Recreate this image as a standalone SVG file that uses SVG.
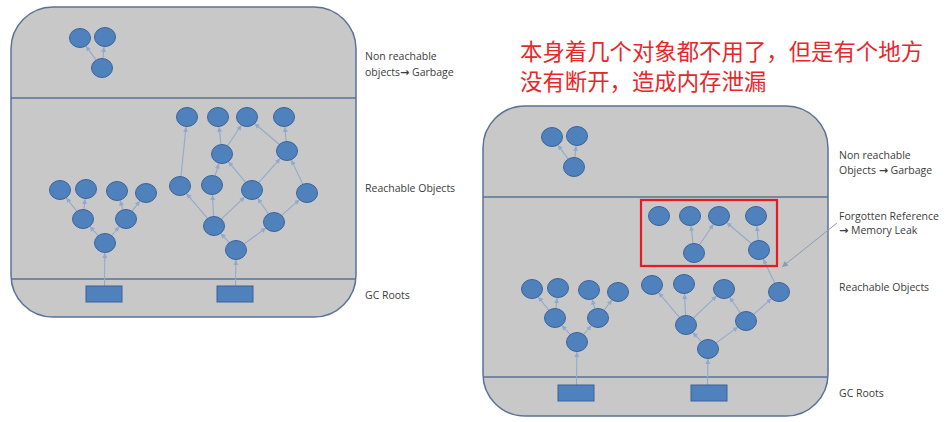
<svg xmlns="http://www.w3.org/2000/svg" width="947" height="422" viewBox="0 0 947 422">
<style>
.panel{fill:#c8c8c8;stroke:#5b7296;stroke-width:1.5}
.div{stroke:#5b7296;stroke-width:1.6;fill:none}
.n{fill:#4f81bd;stroke:#3a639a;stroke-width:1}
.root{fill:#4f81bd;stroke:#3a639a;stroke-width:1}
.e{stroke:#93a9cc;stroke-width:1.1;fill:none;marker-end:url(#ah)}
.lbl{font-family:"Open Sans","Liberation Sans",sans-serif;font-size:10.5px;fill:#3c3c3c}
.arr{font-family:"DejaVu Sans",sans-serif;font-weight:bold;font-size:11px}
.cn{font-family:"Liberation Sans","Noto Sans CJK SC",sans-serif;font-size:22.4px;fill:#e8262b}
.ptr{stroke:#8b9bb3;stroke-width:1;fill:none;marker-end:url(#ah2)}
</style>
<defs>
<marker id="ah" markerUnits="userSpaceOnUse" markerWidth="6" markerHeight="6" refX="5" refY="3" orient="auto">
<path d="M0,0.5 L5,3 L0,5.5 z" fill="#93a9cc"/>
</marker>
<marker id="ah2" markerUnits="userSpaceOnUse" markerWidth="8" markerHeight="8" refX="6" refY="3.5" orient="auto">
<path d="M0,0.5 L6,3.5 L0,6.5 z" fill="#8b9bb3"/>
</marker>
</defs>
<rect width="947" height="422" fill="#ffffff"/>

<!-- LEFT DIAGRAM -->
<g id="left-diagram">
<rect class="panel" x="11" y="7" width="345" height="310" rx="42" ry="42"/>
<line class="div" x1="11" y1="98" x2="356" y2="98"/>
<line class="div" x1="11" y1="279" x2="356" y2="279"/>
<g id="left-connectors">
<line class="e" x1="96.1" y1="59.9" x2="85.9" y2="46.1"/>
<line class="e" x1="103" y1="58" x2="104" y2="47"/>
<line class="e" x1="104.5" y1="286" x2="104.8" y2="253"/>
<line class="e" x1="98.3" y1="235.6" x2="89.7" y2="226.4"/>
<line class="e" x1="111.6" y1="235.5" x2="119.4" y2="226.5"/>
<line class="e" x1="76.8" y1="211.2" x2="66.2" y2="197.8"/>
<line class="e" x1="84" y1="209" x2="85" y2="199"/>
<line class="e" x1="122.9" y1="209.5" x2="120.1" y2="200.5"/>
<line class="e" x1="132.1" y1="211.1" x2="139.9" y2="200.9"/>
<line class="e" x1="235.5" y1="286" x2="235.9" y2="260"/>
<line class="e" x1="229.3" y1="242.6" x2="220.7" y2="233.4"/>
<line class="e" x1="244" y1="244.1" x2="266" y2="227.9"/>
<line class="e" x1="207.5" y1="218.4" x2="186.5" y2="193.6"/>
<line class="e" x1="213.5" y1="216" x2="212.5" y2="195"/>
<line class="e" x1="221.3" y1="219.1" x2="244.7" y2="196.9"/>
<line class="e" x1="268.3" y1="213.8" x2="257.7" y2="198.2"/>
<line class="e" x1="281.5" y1="215.4" x2="299.5" y2="199.6"/>
<line class="e" x1="181" y1="176" x2="186" y2="127"/>
<line class="e" x1="215.1" y1="175.5" x2="218.9" y2="163.5"/>
<line class="e" x1="245.6" y1="182.3" x2="228.4" y2="161.7"/>
<line class="e" x1="258.7" y1="182.6" x2="280.3" y2="158.4"/>
<line class="e" x1="302.7" y1="184" x2="291.3" y2="160"/>
<line class="e" x1="220.9" y1="144.1" x2="219.1" y2="126.9"/>
<line class="e" x1="227.6" y1="145.7" x2="241.4" y2="125.3"/>
<line class="e" x1="279.4" y1="144.5" x2="254.6" y2="123.5"/>
<line class="e" x1="286.1" y1="141" x2="284.9" y2="127"/>
</g>
<g id="L-g1"><ellipse class="n" cx="80" cy="38" rx="10.5" ry="9.5"/></g>
<g id="L-g2"><ellipse class="n" cx="105" cy="37" rx="10.5" ry="9.5"/></g>
<g id="L-g3"><ellipse class="n" cx="102" cy="68" rx="10.5" ry="9.5"/></g>
<g id="L-a"><ellipse class="n" cx="105" cy="243" rx="10.5" ry="9.5"/></g>
<g id="L-b"><ellipse class="n" cx="83" cy="219" rx="10.5" ry="9.5"/></g>
<g id="L-c"><ellipse class="n" cx="126" cy="219" rx="10.5" ry="9.5"/></g>
<g id="L-l1"><ellipse class="n" cx="60" cy="190" rx="10.5" ry="9.5"/></g>
<g id="L-l2"><ellipse class="n" cx="86" cy="189" rx="10.5" ry="9.5"/></g>
<g id="L-l3"><ellipse class="n" cx="117" cy="191" rx="10.5" ry="9.5"/></g>
<g id="L-l4"><ellipse class="n" cx="146" cy="193" rx="10.5" ry="9.5"/></g>
<g id="L-n0"><ellipse class="n" cx="236" cy="250" rx="10.5" ry="9.5"/></g>
<g id="L-n1"><ellipse class="n" cx="214" cy="226" rx="10.5" ry="9.5"/></g>
<g id="L-n2"><ellipse class="n" cx="274" cy="222" rx="10.5" ry="9.5"/></g>
<g id="L-m1"><ellipse class="n" cx="180" cy="186" rx="10.5" ry="9.5"/></g>
<g id="L-m2"><ellipse class="n" cx="212" cy="185" rx="10.5" ry="9.5"/></g>
<g id="L-m3"><ellipse class="n" cx="252" cy="190" rx="10.5" ry="9.5"/></g>
<g id="L-m4"><ellipse class="n" cx="307" cy="193" rx="10.5" ry="9.5"/></g>
<g id="L-p1"><ellipse class="n" cx="222" cy="154" rx="10.5" ry="9.5"/></g>
<g id="L-p2"><ellipse class="n" cx="287" cy="151" rx="10.5" ry="9.5"/></g>
<g id="L-t1"><ellipse class="n" cx="187" cy="117" rx="10.5" ry="9.5"/></g>
<g id="L-t2"><ellipse class="n" cx="218" cy="117" rx="10.5" ry="9.5"/></g>
<g id="L-t3"><ellipse class="n" cx="247" cy="117" rx="10.5" ry="9.5"/></g>
<g id="L-t4"><ellipse class="n" cx="284" cy="117" rx="10.5" ry="9.5"/></g>
<g id="L-root1"><rect class="root" x="86" y="286" width="36" height="16"/></g>
<g id="L-root2"><rect class="root" x="217" y="286" width="36" height="16"/></g>
</g>
<g id="left-labels">
<text class="lbl" x="365" y="60">Non reachable</text>
<text class="lbl" x="365" y="76">objects<tspan class="arr">→</tspan> Garbage</text>
<text class="lbl" x="365" y="192">Reachable Objects</text>
<text class="lbl" x="365" y="299">GC Roots</text>
</g>

<!-- CHINESE NOTE -->
<g id="note">
<text class="cn" x="520" y="60">本身着几个对象都不用了，但是有个地方</text>
<text class="cn" x="520" y="90">没有断开，造成内存泄漏</text>
</g>

<!-- RIGHT DIAGRAM -->
<g id="right-diagram" transform="translate(472,99)">
<rect class="panel" x="11" y="7" width="345" height="310" rx="42" ry="42"/>
<line class="div" x1="11" y1="98" x2="356" y2="98"/>
<line class="div" x1="11" y1="278" x2="356" y2="278"/>
<g id="right-connectors">
<line class="e" x1="96.1" y1="59.9" x2="85.9" y2="46.1"/>
<line class="e" x1="103" y1="58" x2="104" y2="47"/>
<line class="e" x1="104.5" y1="286" x2="104.8" y2="253"/>
<line class="e" x1="98.3" y1="235.6" x2="89.7" y2="226.4"/>
<line class="e" x1="111.6" y1="235.5" x2="119.4" y2="226.5"/>
<line class="e" x1="76.8" y1="211.2" x2="66.2" y2="197.8"/>
<line class="e" x1="84" y1="209" x2="85" y2="199"/>
<line class="e" x1="122.9" y1="209.5" x2="120.1" y2="200.5"/>
<line class="e" x1="132.1" y1="211.1" x2="139.9" y2="200.9"/>
<line class="e" x1="235.5" y1="286" x2="235.9" y2="260"/>
<line class="e" x1="229.3" y1="242.6" x2="220.7" y2="233.4"/>
<line class="e" x1="244" y1="244.1" x2="266" y2="227.9"/>
<line class="e" x1="207.5" y1="218.4" x2="186.5" y2="193.6"/>
<line class="e" x1="213.5" y1="216" x2="212.5" y2="195"/>
<line class="e" x1="221.3" y1="219.1" x2="244.7" y2="196.9"/>
<line class="e" x1="268.3" y1="213.8" x2="257.7" y2="198.2"/>
<line class="e" x1="281.5" y1="215.4" x2="299.5" y2="199.6"/>
<line class="e" x1="302.7" y1="184" x2="291.3" y2="160"/>
<line class="e" x1="220.9" y1="144.1" x2="219.1" y2="126.9"/>
<line class="e" x1="227.6" y1="145.7" x2="241.4" y2="125.3"/>
<line class="e" x1="279.4" y1="144.5" x2="254.6" y2="123.5"/>
<line class="e" x1="286.1" y1="141" x2="284.9" y2="127"/>
</g>
<g id="R-g1"><ellipse class="n" cx="80" cy="38" rx="10.5" ry="9.5"/></g>
<g id="R-g2"><ellipse class="n" cx="105" cy="37" rx="10.5" ry="9.5"/></g>
<g id="R-g3"><ellipse class="n" cx="102" cy="68" rx="10.5" ry="9.5"/></g>
<g id="R-a"><ellipse class="n" cx="105" cy="243" rx="10.5" ry="9.5"/></g>
<g id="R-b"><ellipse class="n" cx="83" cy="219" rx="10.5" ry="9.5"/></g>
<g id="R-c"><ellipse class="n" cx="126" cy="219" rx="10.5" ry="9.5"/></g>
<g id="R-l1"><ellipse class="n" cx="60" cy="190" rx="10.5" ry="9.5"/></g>
<g id="R-l2"><ellipse class="n" cx="86" cy="189" rx="10.5" ry="9.5"/></g>
<g id="R-l3"><ellipse class="n" cx="117" cy="191" rx="10.5" ry="9.5"/></g>
<g id="R-l4"><ellipse class="n" cx="146" cy="193" rx="10.5" ry="9.5"/></g>
<g id="R-n0"><ellipse class="n" cx="236" cy="250" rx="10.5" ry="9.5"/></g>
<g id="R-n1"><ellipse class="n" cx="214" cy="226" rx="10.5" ry="9.5"/></g>
<g id="R-n2"><ellipse class="n" cx="274" cy="222" rx="10.5" ry="9.5"/></g>
<g id="R-m1"><ellipse class="n" cx="180" cy="186" rx="10.5" ry="9.5"/></g>
<g id="R-m2"><ellipse class="n" cx="212" cy="185" rx="10.5" ry="9.5"/></g>
<g id="R-m3"><ellipse class="n" cx="252" cy="190" rx="10.5" ry="9.5"/></g>
<g id="R-m4"><ellipse class="n" cx="307" cy="193" rx="10.5" ry="9.5"/></g>
<g id="R-p1"><ellipse class="n" cx="222" cy="154" rx="10.5" ry="9.5"/></g>
<g id="R-p2"><ellipse class="n" cx="287" cy="151" rx="10.5" ry="9.5"/></g>
<g id="R-t1"><ellipse class="n" cx="187" cy="117" rx="10.5" ry="9.5"/></g>
<g id="R-t2"><ellipse class="n" cx="218" cy="117" rx="10.5" ry="9.5"/></g>
<g id="R-t3"><ellipse class="n" cx="247" cy="117" rx="10.5" ry="9.5"/></g>
<g id="R-t4"><ellipse class="n" cx="284" cy="117" rx="10.5" ry="9.5"/></g>
<g id="R-root1"><rect class="root" x="86" y="286" width="36" height="16"/></g>
<g id="R-root2"><rect class="root" x="219" y="286" width="36" height="16"/></g>
</g>
<g id="highlight"><rect x="641" y="200" width="136" height="66" fill="none" stroke="#e8191f" stroke-width="2.2"/></g>
<g id="pointer"><line class="ptr" x1="837" y1="223" x2="782" y2="267"/></g>
<g id="right-labels">
<text class="lbl" x="839" y="159">Non reachable</text>
<text class="lbl" x="839" y="174">Objects <tspan class="arr">→</tspan> Garbage</text>
<text class="lbl" x="839" y="220">Forgotten Reference</text>
<text class="lbl" x="839" y="234"><tspan class="arr">→</tspan> Memory Leak</text>
<text class="lbl" x="839" y="291">Reachable Objects</text>
<text class="lbl" x="839" y="397">GC Roots</text>
</g>
</svg>
